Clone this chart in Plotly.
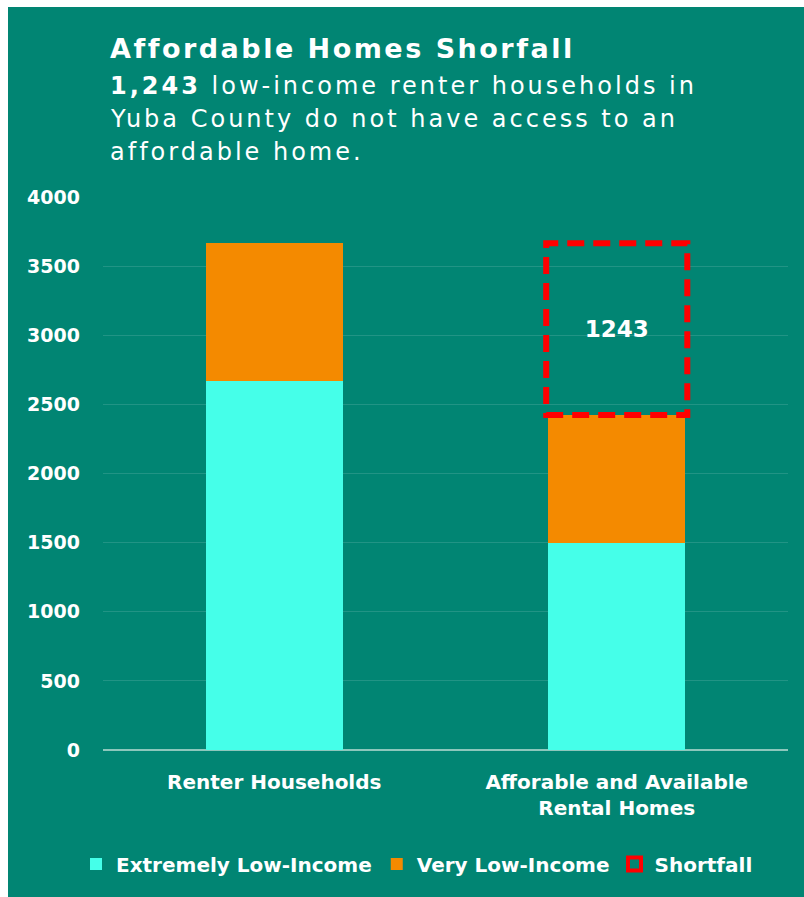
import plotly.graph_objects as go

# ---- data ----
categories = ["Renter Households", "Afforable and Available<br>Rental Homes"]
extremely_low = [2670, 1500]
very_low = [996, 923]
shortfall_value = 1243
y_ticks = [0, 500, 1000, 1500, 2000, 2500, 3000, 3500, 4000]

TEAL = "#018573"
CYAN = "#45FFE9"
ORANGE = "#F48A00"
RED = "#FF0000"

W, H = 804, 897
L, R, T, B = 103, 16, 197, 147
PW, PH = W - L - R, H - T - B

def px(x):
    return (x - L) / PW

def py(y):
    return (H - B - y) / PH

xpos = list(range(len(categories)))
bar_w = 0.40

fig = go.Figure()
fig.add_trace(go.Bar(x=xpos, y=extremely_low, name="Extremely Low-Income",
                     marker=dict(color=CYAN, line=dict(width=0)), width=bar_w))
fig.add_trace(go.Bar(x=xpos, y=very_low, name="Very Low-Income",
                     marker=dict(color=ORANGE, line=dict(width=0)), width=bar_w))

# shortfall sits on top of the available homes bar
avail_total = extremely_low[1] + very_low[1]
fig.add_trace(go.Bar(x=[xpos[1]], y=[shortfall_value], base=[avail_total],
                     width=bar_w, marker=dict(color="rgba(0,0,0,0)", line=dict(width=0)),
                     text=[str(shortfall_value)], textposition="inside",
                     insidetextanchor="middle",
                     textfont=dict(family="DejaVu Sans", size=23, color="white", weight="bold"),
                     showlegend=False, hoverinfo="skip"))
fig.add_trace(go.Scatter(x=[None], y=[None], mode="markers", name="Shortfall",
                         marker=dict(symbol="square-open", color=RED, size=13,
                                     line=dict(width=4, color=RED))))

fig.add_shape(type="rect", xref="x", yref="y",
              x0=xpos[1] - bar_w / 2 - 0.006, x1=xpos[1] + bar_w / 2 + 0.006,
              y0=avail_total, y1=avail_total + shortfall_value,
              line=dict(color=RED, width=6, dash="17px,9px"), fillcolor="rgba(0,0,0,0)")

# teal panel (white strip at left and top)
fig.add_shape(type="rect", xref="paper", yref="paper", layer="below",
              x0=px(8), x1=px(W + 5), y0=py(H + 5), y1=py(7),
              line=dict(width=0), fillcolor=TEAL)

title_font = "DejaVu Sans"
fig.add_annotation(xref="paper", yref="paper", x=px(108), y=py(48), xanchor="left",
                   yanchor="middle", align="left", showarrow=False,
                   text="<b>Affordable Homes Shorfall</b>",
                   font=dict(family=title_font, size=27, color="white"))
lines = ["<b>1,243</b> low-income renter households in",
         "Yuba County do not have access to an",
         "affordable home."]
for i, t in enumerate(lines):
    fig.add_annotation(xref="paper", yref="paper", x=px(108), y=py(86 + 33 * i),
                       xanchor="left", yanchor="middle", align="left", showarrow=False,
                       text=t, font=dict(family=title_font, size=24, color="white"))

fig.update_layout(
    width=W, height=H,
    margin=dict(l=L, r=R, t=T, b=B, pad=0),
    barmode="stack",
    paper_bgcolor="white",
    plot_bgcolor=TEAL,
    font=dict(family="DejaVu Sans", color="white"),
    showlegend=True,
    legend=dict(orientation="h", x=px(417), xanchor="center", y=py(864), yanchor="middle",
                font=dict(family="DejaVu Sans", size=20, color="white", weight="bold"),
                bgcolor="rgba(0,0,0,0)", traceorder="normal", itemclick=False,
                itemwidth=30),
    xaxis=dict(tickvals=xpos, ticktext=categories, range=[-0.5, 1.5],
               showgrid=False, zeroline=False, showline=False, ticks="",
               ticklabelstandoff=18,
               tickfont=dict(family="DejaVu Sans", size=20, color="white", weight="bold")),
    yaxis=dict(range=[0, 4000], tickvals=y_ticks, showgrid=True,
               gridcolor="rgba(255,255,255,0.13)", gridwidth=1,
               zeroline=True, zerolinecolor="#8CC7BC", zerolinewidth=2,
               showline=False, ticks="", ticklabelstandoff=22,
               tickfont=dict(family="DejaVu Sans", size=19, color="white", weight="bold")),
)

post = """
var gd = document.getElementById('{plot_id}');
function spaceOut() {
  gd.querySelectorAll('g.annotation').forEach(function (g) {
    var idx = g.getAttribute('data-index');
    var t = g.querySelector('text.annotation-text');
    if (t) { t.style.letterSpacing = (idx === '0') ? '2.5px' : '3px'; }
  });
}
spaceOut();
gd.on('plotly_afterplot', spaceOut);
"""
fig.write_html("out.html", post_script=post)
